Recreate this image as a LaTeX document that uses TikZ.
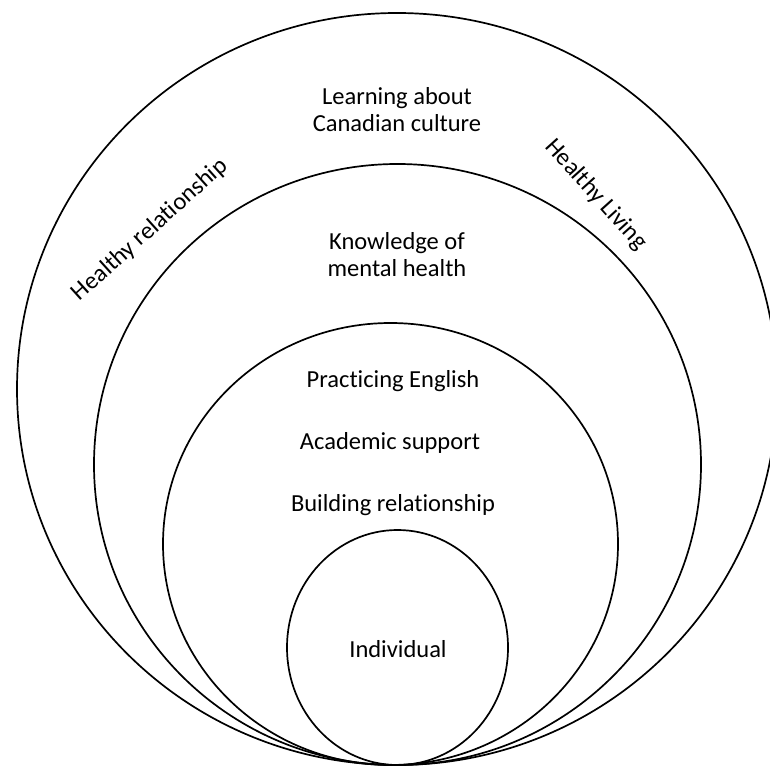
\documentclass[tikz,border=0pt]{standalone}
\usepackage{fontspec}
\setmainfont{Carlito}[Ligatures=NoCommon]
\begin{document}
\begin{tikzpicture}[x=1pt,y=-1pt,
  ring/.style={draw=black, line width=1.7pt},
  lbl/.style={font=\fontsize{24.5}{27}\selectfont, align=center, text=black, inner sep=0pt}]
\useasboundingbox (0,0) rectangle (770,767);
\clip (0,0) rectangle (770,767);
\fill[white] (0,0) rectangle (770,767);
% rings
\draw[ring] (397,389) ellipse [x radius=380, y radius=376];
\draw[ring] (397.5,464.5) ellipse [x radius=303.5, y radius=300.5];
\draw[ring] (390.5,544) ellipse [x radius=227.5, y radius=221];
\draw[ring] (397.5,647.5) ellipse [x radius=110.5, y radius=117.5];
% labels
\node[lbl] (culture) at (397,110) {Learning about\\Canadian culture};
\node[lbl] (mental) at (397,255) {Knowledge of\\mental health};
\node[lbl] (english) at (393,381) {Practicing English};
\node[lbl] (academic) at (390,443) {Academic support};
\node[lbl] (building) at (393,505) {Building relationship};
\node[lbl] (individual) at (398,649) {Individual};
\node[lbl, rotate=42] (hrel) at (150,230) {Healthy relationship};
\node[lbl, rotate=-48] (hliv) at (596,195) {Healthy Living};
\end{tikzpicture}
\end{document}
